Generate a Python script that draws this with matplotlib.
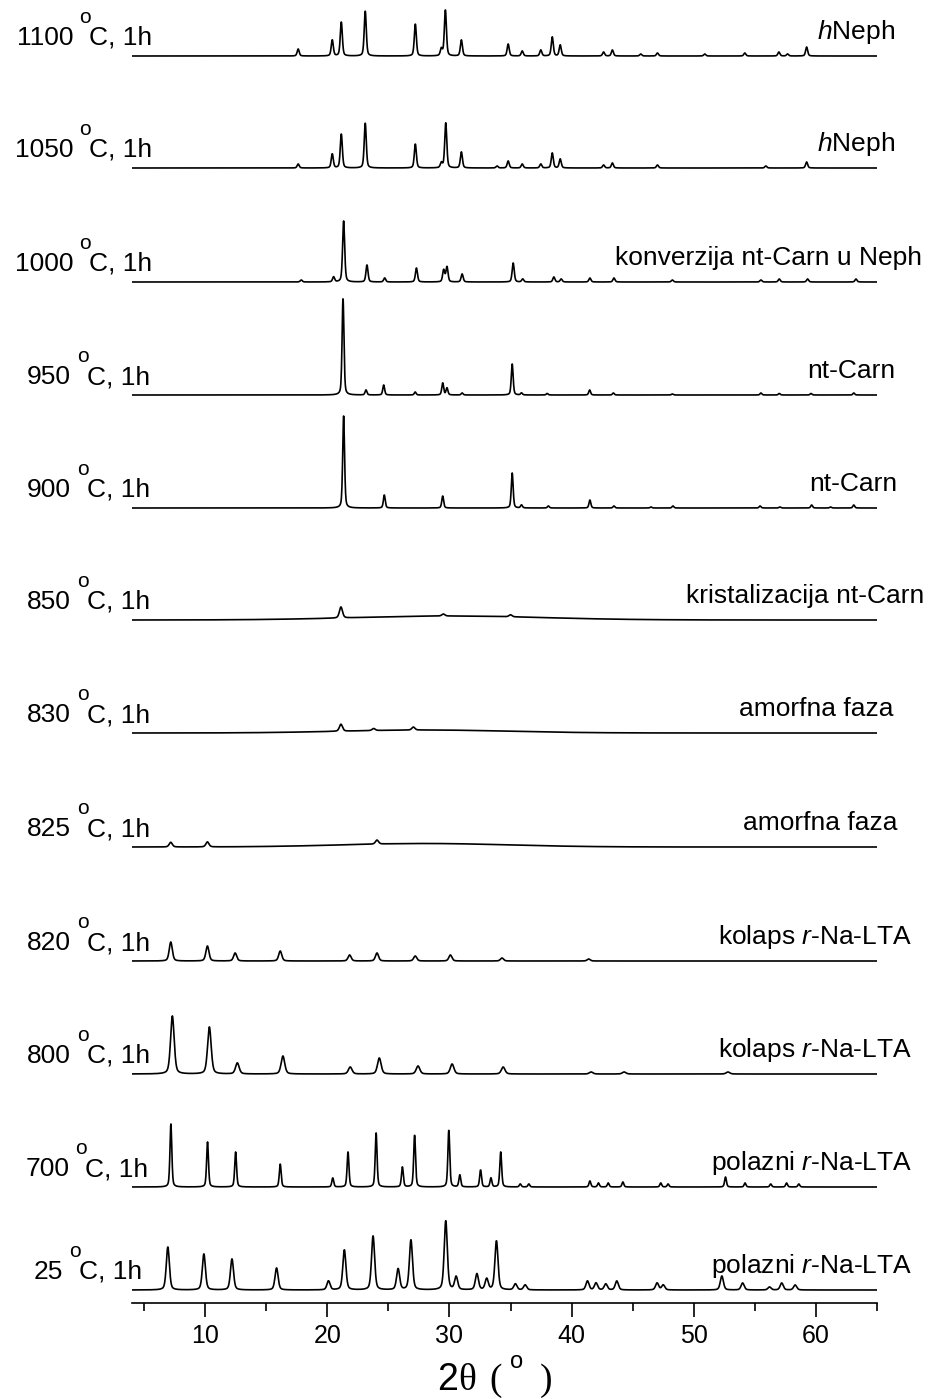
import matplotlib.pyplot as plt
import matplotlib.transforms as mtransforms
import numpy as np

plt.rcParams['font.family'] = ['Liberation Sans', 'DejaVu Sans']
plt.rcParams['mathtext.fontset'] = 'custom'
plt.rcParams['mathtext.rm'] = 'Liberation Sans'
plt.rcParams['mathtext.it'] = 'Liberation Sans:italic'

# samples, bottom to top
temps = ['25', '700', '800', '820', '825', '830', '850', '900', '950', '1000', '1050', '1100']
phases = ['polazni $\\mathit{r}$-Na-LTA', 'polazni $\\mathit{r}$-Na-LTA',
          'kolaps $\\mathit{r}$-Na-LTA', 'kolaps $\\mathit{r}$-Na-LTA',
          'amorfna faza', 'amorfna faza', 'kristalizacija nt-Carn',
          'nt-Carn', 'nt-Carn', 'konverzija nt-Carn u Neph',
          '$\\mathit{h}$Neph', '$\\mathit{h}$Neph']

# peak positions (2theta) and intensities (a.u.)
pos_25 = [6.95, 9.9, 12.2, 15.85, 20.1, 21.4, 23.75, 25.8, 26.85, 29.7, 30.55, 32.25, 33.05,
          33.85, 35.4, 36.2, 41.3, 42.0, 42.8, 43.7, 47.0, 47.5, 52.3, 54.0, 56.2, 57.2, 58.3]
int_25 = [43, 36, 31, 22, 9, 40, 54, 21, 50, 69, 13, 16, 11,
          49, 6, 5, 9, 7, 6, 9, 7, 5, 14, 7, 3, 7, 5]

pos_700 = [7.2, 10.2, 12.5, 16.15, 20.45, 21.7, 24.0, 26.15, 27.15, 29.95, 30.85, 32.55, 33.4,
           34.2, 35.8, 36.5, 41.5, 42.2, 43.0, 44.2, 47.3, 47.9, 52.6, 54.2, 56.3, 57.6, 58.6]
int_700 = [63, 45, 35, 23, 9, 35, 54, 20, 52, 57, 12, 17, 9,
           35, 3, 3, 6, 4, 4, 5, 4, 3, 10, 4, 3, 4, 3]

pos_800 = [7.32, 10.35, 12.64, 16.37, 21.88, 24.26, 27.43, 30.22, 34.4, 41.6, 44.3, 52.8]
int_800 = [58, 47, 11, 18, 7, 16, 8, 10, 7, 2, 2, 2]

pos_820 = [7.19, 10.19, 12.46, 16.15, 21.83, 24.07, 27.2, 30.08, 34.3, 41.4]
int_820 = [19, 15, 8, 10, 6, 8, 5, 6, 3, 2]

pos_825 = [7.19, 10.19, 24.07]
int_825 = [4.7, 5, 4]

pos_830 = [21.12, 23.8, 27.05]
int_830 = [7, 2, 3]

pos_850 = [21.12, 29.5, 35.0]
int_850 = [11, 2, 2]

pos_900 = [21.34, 24.67, 29.45, 35.14, 35.9, 38.1, 41.5, 43.47, 46.5, 48.3, 55.43, 57.05,
           59.65, 61.2, 63.1]
int_900 = [92, 13, 12, 35, 3, 2, 8, 2, 1, 2, 2, 1, 3, 1, 3]

pos_950 = [21.29, 23.17, 24.62, 27.2, 29.45, 29.8, 31.04, 35.14, 35.9, 38.0, 41.48, 43.42,
           48.25, 55.5, 57.0, 59.6, 63.1]
int_950 = [97, 5, 10, 3, 12, 7, 2, 31, 2, 1.5, 5, 2, 1, 2, 1.5, 1.5, 2]

pos_1000 = [17.87, 20.52, 21.34, 23.25, 24.7, 27.3, 29.53, 29.8, 31.04, 35.22, 36.0, 38.55,
            39.15, 41.5, 43.47, 48.25, 55.5, 57.0, 59.32, 63.28]
int_1000 = [2, 5, 61, 17, 4, 14, 12, 15, 8, 19, 3, 5, 3, 4, 4, 2, 2, 3, 3, 3]

pos_1050 = [17.62, 20.41, 21.15, 23.11, 27.21, 29.34, 29.7, 30.98, 33.9, 34.81, 35.96, 37.48,
            38.42, 39.07, 42.62, 43.34, 47.03, 55.9, 59.24]
int_1050 = [4, 14, 34, 45, 24, 5, 45, 16, 2, 7, 4, 4, 15, 9, 3, 5, 3, 2, 6]

pos_1100 = [17.62, 20.41, 21.15, 23.11, 27.21, 29.34, 29.67, 30.98, 34.81, 35.96, 37.48, 38.42,
            39.07, 42.62, 43.34, 45.66, 47.03, 50.9, 54.18, 56.97, 57.68, 59.24]
int_1100 = [7, 16, 34, 45, 32, 7, 46, 16, 12, 5, 6, 19,
            11, 4, 6, 2, 3, 2, 3, 4, 2, 9]

positions = [pos_25, pos_700, pos_800, pos_820, pos_825, pos_830, pos_850,
             pos_900, pos_950, pos_1000, pos_1050, pos_1100]
intensities = [int_25, int_700, int_800, int_820, int_825, int_830, int_850,
               int_900, int_950, int_1000, int_1050, int_1100]
fwhm = [0.3, 0.18, 0.35, 0.3, 0.3, 0.3, 0.3, 0.18, 0.18, 0.2, 0.2, 0.2]

# broad amorphous hump: centre, height, width
hump_pos = [0, 0, 0, 0, 28, 28, 30, 0, 0, 0, 0, 0]
hump_int = [0, 0, 0, 0, 3.5, 3, 4, 0, 0, 0, 0, 0]
hump_w = [1, 1, 1, 1, 16, 16, 18, 1, 1, 1, 1, 1]

# layout (pixels)
offsets = [13, 116, 229, 342, 456, 570, 683, 795, 908, 1021, 1135, 1247]
right_x = [912, 912, 912, 912, 897, 893, 924, 897, 895, 922, 895, 895]
left_end = [142, 148, 150, 150, 150, 150, 150, 150, 150, 152, 152, 152]
AX_BOTTOM = 96


def profile(x, pos, inten, w):
    y = np.zeros_like(x)
    for p, h in zip(pos, inten):
        d = (x - p) / w
        y += h * (0.6 * np.exp(-4 * np.log(2) * d**2) + 0.4 / (1 + 4 * d**2))
    return y


tt = np.linspace(4, 65, 3051)

fig = plt.figure(figsize=(9.3, 13.99), dpi=100)
ax = fig.add_axes([131.8 / 930, AX_BOTTOM / 1399, (877 - 131.8) / 930, 1303 / 1399])
pix = mtransforms.IdentityTransform()
rend = fig.canvas.get_renderer()


def px2x(px):
    return 4 + (px - 131.8) * 61 / (877 - 131.8)


def width(t):
    return t.get_window_extent(rend).width


for i in range(len(temps)):
    y = profile(tt, positions[i], intensities[i], fwhm[i])
    if hump_int[i] > 0:
        y += hump_int[i] * np.exp(-4 * np.log(2) * ((tt - hump_pos[i]) / hump_w[i])**2)
    ax.plot(tt, y + offsets[i], color='black', lw=1.2)

    # temperature label: digits, raised 'o', then 'C, 1h'
    base = AX_BOTTOM + offsets[i] + 11
    t1 = fig.text(0, base, temps[i], fontsize=19, va='baseline', transform=pix)
    t2 = fig.text(0, base + 22, 'o', fontsize=15, va='baseline', transform=pix)
    t3 = fig.text(0, base, 'C, 1h', fontsize=19, va='baseline', transform=pix)
    w1, w2, w3 = width(t1), width(t2) - 2, width(t3)
    gap = 6
    left = left_end[i] - (w1 + gap + w2 + w3)
    t1.set_x(left)
    t2.set_x(left + w1 + gap)
    t3.set_x(left + w1 + gap + w2)

    ax.text(px2x(right_x[i]), offsets[i] + 17, phases[i],
            fontsize=19, ha='right', va='baseline', clip_on=False)

ax.set_xlim(4, 65)
ax.set_ylim(0, 1303)
for s in ['top', 'left', 'right']:
    ax.spines[s].set_visible(False)
ax.spines['bottom'].set_linewidth(1.2)
ax.set_yticks([])
ax.set_xticks([10, 20, 30, 40, 50, 60])
ax.set_xticks([5, 15, 25, 35, 45, 55, 65], minor=True)
ax.tick_params(axis='x', which='major', length=10, width=1.2, labelsize=18, pad=5)
ax.tick_params(axis='x', which='minor', length=6, width=1.2)

# axis title 2theta (o)
fig.text(437, 9, '2', fontsize=27, va='baseline', transform=pix)
fig.text(458, 9, '\u03b8', fontsize=27, family='Liberation Serif', va='baseline', transform=pix)
fig.text(489, 9, '(', fontsize=27, family='Liberation Serif', va='baseline', transform=pix)
fig.text(510, 31, 'o', fontsize=17, va='baseline', transform=pix)
fig.text(540, 9, ')', fontsize=27, family='Liberation Serif', va='baseline', transform=pix)

plt.savefig('out.png', dpi=100)
